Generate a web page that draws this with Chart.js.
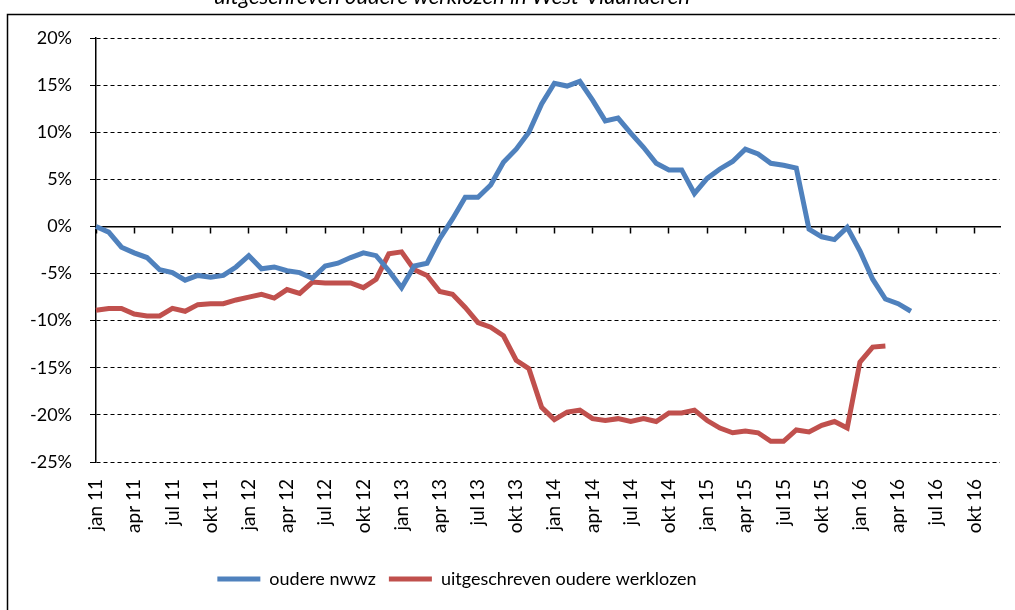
<!DOCTYPE html>
<html>
<head>
<meta charset="utf-8">
<script src="https://cdn.jsdelivr.net/npm/chart.js@4/dist/chart.umd.min.js"></script>
<style>
    html, body { margin: 0; padding: 0; background: #fff; }
    #wrap { width: 1015px; height: 610px; position: relative; }
</style>
</head>
<body>
<div id="wrap"><canvas id="chart"></canvas></div>
<script>
// Maanden jan 11 .. dec 16
const monthNames = ['jan', 'feb', 'mrt', 'apr', 'mei', 'jun', 'jul', 'aug', 'sep', 'okt', 'nov', 'dec'];
const years = ['11', '12', '13', '14', '15', '16'];
const months = [];
years.forEach(y => monthNames.forEach(m => months.push(m + ' ' + y)));

// oudere nwwz (% evolutie), jan 11 .. mei 16
const oudereNwwz = [
    0.0, -0.6, -2.2, -2.8, -3.3, -4.6, -4.9, -5.7, -5.2, -5.4, -5.2, -4.3,
    -3.1, -4.5, -4.3, -4.7, -4.9, -5.5, -4.2, -3.9, -3.3, -2.8, -3.1, -4.7,
    -6.5, -4.2, -3.9, -1.3, 0.8, 3.1, 3.1, 4.4, 6.8, 8.2, 10.0, 13.0,
    15.2, 14.9, 15.4, 13.4, 11.2, 11.5, 9.9, 8.4, 6.7, 6.0, 6.0, 3.5,
    5.1, 6.1, 6.9, 8.2, 7.7, 6.7, 6.5, 6.2, -0.3, -1.1, -1.4, -0.1,
    -2.6, -5.6, -7.7, -8.2, -9.0
];

// uitgeschreven oudere werklozen (% evolutie), jan 11 .. mrt 16
const uitgeschreven = [
    -8.9, -8.7, -8.7, -9.3, -9.5, -9.5, -8.7, -9.0, -8.3, -8.2, -8.2, -7.8,
    -7.5, -7.2, -7.6, -6.7, -7.1, -5.9, -6.0, -6.0, -6.0, -6.5, -5.6, -2.9,
    -2.7, -4.6, -5.2, -6.9, -7.2, -8.6, -10.2, -10.7, -11.6, -14.2, -15.1, -19.2,
    -20.5, -19.7, -19.5, -20.4, -20.6, -20.4, -20.7, -20.4, -20.7, -19.8, -19.8, -19.5,
    -20.6, -21.4, -21.9, -21.7, -21.9, -22.8, -22.8, -21.6, -21.8, -21.1, -20.7, -21.4,
    -14.4, -12.8, -12.7
];

const yMin = -25, yMax = 20, yStep = 5;
const fontFamily = 'Lato, "Open Sans", sans-serif';

// kader en (afgesneden) titel
const framePlugin = {
    id: 'frame',
    afterLayout(chart) {
        // legende iets naar links, zoals in het origineel
        chart.legend.left = 0;
        chart.legend.right = 914;
    },
    afterDraw(chart) {
        const ctx = chart.ctx;
        ctx.save();
        ctx.strokeStyle = '#000';
        ctx.lineWidth = 1.5;
        ctx.strokeRect(7.5, 14.5, 1030, 620);
        ctx.fillStyle = '#000';
        ctx.font = 'italic 22px ' + fontFamily;
        ctx.textAlign = 'center';
        ctx.textBaseline = 'alphabetic';
        ctx.fillText('uitgeschreven oudere werklozen in West-Vlaanderen', 452, 4);
        ctx.restore();
    }
};

const ctx = document.getElementById('chart').getContext('2d');
new Chart(ctx, {
    type: 'line',
    data: {
        labels: months,
        datasets: [{
            label: 'oudere nwwz',
            data: oudereNwwz,
            borderColor: '#4F81BD',
            backgroundColor: '#4F81BD',
            borderWidth: 5,
            pointRadius: 0,
            tension: 0,
            xAxisID: 'x'
        }, {
            label: 'uitgeschreven oudere werklozen',
            data: uitgeschreven,
            borderColor: '#C0504D',
            backgroundColor: '#C0504D',
            borderWidth: 5,
            pointRadius: 0,
            tension: 0,
            xAxisID: 'x'
        }]
    },
    options: {
        responsive: true,
        maintainAspectRatio: false,
        animation: false,
        layout: { padding: { top: 38, right: 15, bottom: 12, left: 0 } },
        plugins: {
            tooltip: { enabled: false },
            legend: {
                position: 'bottom',
                labels: {
                    color: '#000',
                    font: { family: fontFamily, size: 18 },
                    boxWidth: 43,
                    boxHeight: 5,
                    padding: 13,
                    generateLabels(chart) {
                        const items = Chart.defaults.plugins.legend.labels.generateLabels(chart);
                        items.forEach(it => { it.lineWidth = 0; });
                        return items;
                    }
                }
            }
        },
        scales: {
            x: {
                type: 'category',
                offset: false,
                grid: { display: false },
                border: { display: false },
                ticks: {
                    autoSkip: false,
                    minRotation: 90,
                    maxRotation: 90,
                    padding: 9,
                    color: '#000',
                    font: { family: fontFamily, size: 19 },
                    callback(value, index) {
                        return index % 3 === 0 ? this.getLabelForValue(value) : '';
                    }
                },
                afterFit(scale) {
                    scale.height = 95;
                    scale.paddingRight = 0;
                    scale.paddingLeft = 0;
                }
            },
            x0: {
                type: 'category',
                offset: false,
                position: { y: 0 },
                grid: {
                    drawOnChartArea: false,
                    drawTicks: true,
                    tickLength: 6,
                    tickWidth: 1.5,
                    color: c => (c.index % 3 === 0 ? '#000' : 'rgba(0,0,0,0)')
                },
                border: { display: true, color: '#000', width: 1.5 },
                ticks: { display: false, autoSkip: false }
            },
            y: {
                min: yMin,
                max: yMax,
                ticks: {
                    stepSize: yStep,
                    padding: 18,
                    color: '#000',
                    font: { family: fontFamily, size: 18 },
                    callback: v => v + '%'
                },
                grid: {
                    color: '#000',
                    lineWidth: 1,
                    drawTicks: true,
                    tickLength: 6,
                    tickColor: '#000'
                },
                border: { display: true, color: '#000', width: 1.5, dash: [4, 3] },
                afterFit(scale) { scale.width = 96; }
            }
        }
    },
    plugins: [framePlugin]
});
</script>
</body>
</html>
